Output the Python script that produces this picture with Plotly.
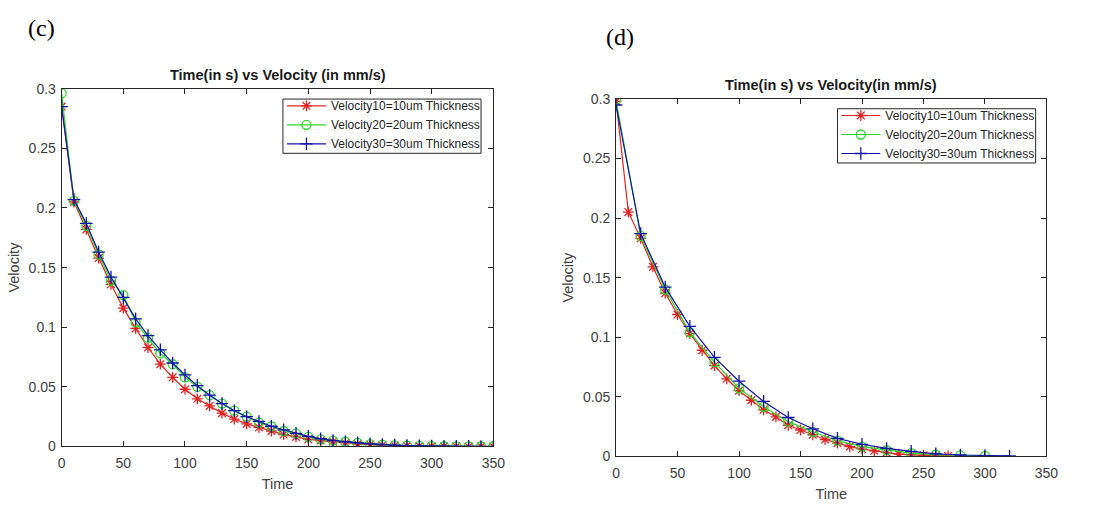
import plotly.graph_objects as go

# ---------- data: panel (c) ----------
time_c = list(range(0, 351, 10))
vel10_c = [0.285, 0.205, 0.182, 0.158, 0.136, 0.116, 0.099, 0.083, 0.069, 0.058,
           0.048, 0.040, 0.034, 0.028, 0.023, 0.019, 0.016, 0.013, 0.010, 0.008,
           0.006, 0.005, 0.004, 0.003, 0.002, 0.0015, 0.001, 0.0008, 0.0005, 0.0003,
           0.0002, 0.0001, 0.0001, 0.0, 0.0, 0.0]
vel20_c = [0.296, 0.206, 0.185, 0.161, 0.139, 0.127, 0.104, 0.091, 0.078, 0.069,
           0.058, 0.050, 0.043, 0.036, 0.030, 0.025, 0.020, 0.017, 0.013, 0.011,
           0.008, 0.006, 0.005, 0.004, 0.003, 0.002, 0.0015, 0.001, 0.0008, 0.0005,
           0.0003, 0.0002, 0.0001, 0.0001, 0.0, 0.0]
vel30_c = [0.285, 0.207, 0.187, 0.163, 0.142, 0.125, 0.107, 0.093, 0.081, 0.070,
           0.060, 0.051, 0.043, 0.036, 0.030, 0.025, 0.021, 0.017, 0.014, 0.011,
           0.0085, 0.0065, 0.005, 0.004, 0.003, 0.0022, 0.0016, 0.0012, 0.0008, 0.0005,
           0.0003, 0.0002, 0.0001, 0.0001, 0.0, 0.0]

# ---------- data: panel (d) ----------
time10_d = list(range(0, 271, 10))
vel10_d = [0.298, 0.205, 0.183, 0.159, 0.137, 0.119, 0.103, 0.089, 0.076, 0.065,
           0.055, 0.047, 0.039, 0.033, 0.026, 0.022, 0.018, 0.014, 0.011, 0.008,
           0.006, 0.0045, 0.003, 0.0017, 0.0011, 0.0008, 0.0004, 0.0002]
time20_d = list(range(0, 301, 20))
vel20_d = [0.299, 0.185, 0.140, 0.104, 0.079, 0.057, 0.0415, 0.029, 0.0205, 0.013,
           0.008, 0.005, 0.0025, 0.0012, 0.0006, 0.0002]
time30_d = list(range(0, 321, 20))
vel30_d = [0.295, 0.187, 0.142, 0.109, 0.083, 0.063, 0.046, 0.0325, 0.023, 0.015,
           0.010, 0.0065, 0.004, 0.002, 0.001, 0.0005, 0.0002]

names = ["Velocity10=10um Thickness", "Velocity20=20um Thickness", "Velocity30=30um Thickness"]
colors = ["#e02424", "#2ad82a", "#1414a8"]
symbols = ["asterisk-open", "circle-open", "cross-thin-open"]

x_ticks = [0, 50, 100, 150, 200, 250, 300, 350]
y_ticks = [0, 0.05, 0.1, 0.15, 0.2, 0.25, 0.3]
y_tick_text = ["0", "0.05", "0.1", "0.15", "0.2", "0.25", "0.3"]

W, H = 1111, 510
SANS = "Liberation Sans, Arial, sans-serif"

fig = go.Figure()

panels = [
    ("x", "y", "legend", [(time_c, vel10_c), (time_c, vel20_c), (time_c, vel30_c)]),
    ("x2", "y2", "legend2", [(time10_d, vel10_d), (time20_d, vel20_d), (time30_d, vel30_d)]),
]
for xa, ya, lg, series in panels:
    for i, (xs, ys) in enumerate(series):
        fig.add_trace(go.Scatter(
            x=xs, y=ys, xaxis=xa, yaxis=ya, legend=lg, name=names[i],
            mode="lines+markers",
            line=dict(color=colors[i], width=1.2),
            marker=dict(symbol=symbols[i], size=9, color=colors[i],
                        line=dict(color=colors[i], width=1.3)),
        ))

def px_x(p):
    return p / W

def px_y(p):
    return 1 - p / H

axis_common = dict(
    showgrid=False, zeroline=False, showline=True, linecolor="#262626", linewidth=1,
    mirror="ticks", ticks="inside", ticklen=5, tickcolor="#262626",
    tickfont=dict(family=SANS, size=14, color="#404040"),
    title_font=dict(family=SANS, size=14.5, color="#404040"),
)

legend_common = dict(
    xanchor="left", yanchor="top", bgcolor="rgba(0,0,0,0)", borderwidth=0,
    font=dict(family=SANS, size=12, color="#262626"),
    tracegroupgap=0, itemwidth=39,
)

fig.update_layout(
    width=W, height=H, margin=dict(l=0, r=0, t=0, b=0),
    paper_bgcolor="white", plot_bgcolor="white",
    showlegend=True,
    xaxis=dict(domain=[px_x(58.5), px_x(496.5)], range=[0, 350], tickvals=x_ticks,
               ticklabelstandoff=4, title=dict(text="Time", standoff=8), anchor="y", **axis_common),
    yaxis=dict(domain=[px_y(452.7), px_y(83.3)], range=[0, 0.3], tickvals=y_ticks,
               ticktext=y_tick_text, ticklabelstandoff=2, title=dict(text="Velocity", standoff=5),
               anchor="x", **axis_common),
    xaxis2=dict(domain=[px_x(621), px_x(1057.7)], range=[0, 350], tickvals=x_ticks,
                ticklabelstandoff=4, title=dict(text="Time", standoff=8), anchor="y2", **axis_common),
    yaxis2=dict(domain=[px_y(462.7), px_y(94)], range=[0, 0.3], tickvals=y_ticks,
                ticktext=y_tick_text, ticklabelstandoff=2, title=dict(text="Velocity", standoff=5),
                anchor="x2", **axis_common),
    legend=dict(x=px_x(282), y=px_y(86), **legend_common),
    legend2=dict(x=px_x(844.5), y=px_y(96), **legend_common),
)

# legend frames (MATLAB-style tight box)
for x0, y0, x1, y1 in [(283, 94, 484, 150), (845.7, 104, 1046.7, 160)]:
    fig.add_shape(type="rect", xref="paper", yref="paper",
                  x0=px_x(x0), x1=px_x(x1), y0=px_y(y1), y1=px_y(y0),
                  fillcolor="white", line=dict(color="#262626", width=1), layer="above")

title_font = dict(family=SANS, size=14.5, color="#1a1a1a")
fig.add_annotation(text="<b>Time(in s) vs Velocity (in mm/s)</b>", x=px_x(277.5), y=px_y(69),
                   xref="paper", yref="paper", showarrow=False, font=title_font,
                   xanchor="center", yanchor="middle")
fig.add_annotation(text="<b>Time(in s) vs Velocity(in mm/s)</b>", x=px_x(839.3), y=px_y(79),
                   xref="paper", yref="paper", showarrow=False, font=title_font,
                   xanchor="center", yanchor="middle")

label_font = dict(family="Liberation Serif, Times New Roman, serif", size=24, color="black")
fig.add_annotation(text="(c)", x=px_x(38), y=px_y(21), xref="paper", yref="paper",
                   showarrow=False, font=label_font, xanchor="center", yanchor="middle")
fig.add_annotation(text="(d)", x=px_x(625), y=px_y(30), xref="paper", yref="paper",
                   showarrow=False, font=label_font, xanchor="center", yanchor="middle")

fig.write_html("out.html")
